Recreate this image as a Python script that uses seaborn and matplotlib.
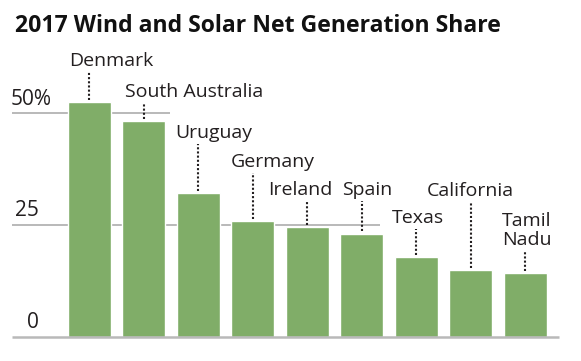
import numpy as np
import pandas as pd
import matplotlib
matplotlib.use('Agg')
import matplotlib.pyplot as plt
import seaborn as sns

# data
places = ['Denmark', 'South Australia', 'Uruguay', 'Germany', 'Ireland',
          'Spain', 'Texas', 'California', 'Tamil\nNadu']
share = [52.5, 48.2, 32.1, 25.8, 24.6, 23.1, 17.9, 15.0, 14.2]
tick_vals = [0, 25, 50]
tick_text = ['0', '25', '50%']

# label layout (offset from bar centre in bar units, baseline in data units)
label_dx = [-0.36, -0.35, -0.42, -0.41, -0.12, -0.36, -0.44, 0.0, 0.03]
label_ha = ['left', 'left', 'left', 'left', 'center', 'left', 'left', 'center', 'center']
label_y = [60.5, 53.6, 44.4, 37.9, 31.7, 31.7, 25.4, 31.5, 20.5]

sns.set_style('white')
plt.rcParams['font.family'] = ['Open Sans', 'DejaVu Sans']

bar_green = '#80ad68'
grid_grey = '#b9b9b9'
ink = '#231f20'

df = pd.DataFrame({'place': places, 'share': share})

fig = plt.figure(figsize=(5.81, 3.61), dpi=100)
ax = fig.add_axes([0, 0, 1, 1])

sns.barplot(data=df, x='place', y='share', color=bar_green, saturation=1,
            width=0.79, ax=ax, zorder=3)

# pixel mapping: bar 0 centre at x=89 px, pitch 54.5 px; 0 at y=337 px, 4.48 px per unit
ax.set_xlim(-89.2 / 54.5, (581 - 89.2) / 54.5)
ax.set_ylim((337 - 361) / 4.48, 337 / 4.48)
ax.set_axis_off()

# partial gridlines and baseline
ax.hlines(50, -1.42, 1.48, color=grid_grey, lw=1.4, zorder=1)
ax.hlines(25, -1.42, 5.34, color=grid_grey, lw=1.4, zorder=1)
ax.hlines(0, -1.42, 8.62, color=grid_grey, lw=1.8, zorder=4)

# y tick labels
for v, t in zip(tick_vals, tick_text):
    if t.endswith('%'):
        ax.text(-1.45, v + 1.8, t, ha='left', va='baseline', fontsize=15, color=ink)
    else:
        ax.text(-0.93, v + 2.0, t, ha='right', va='baseline', fontsize=15, color=ink)

# labels with dotted leaders
for i, (p, v) in enumerate(zip(places, share)):
    ax.text(i + label_dx[i], label_y[i], p, ha=label_ha[i], va='baseline',
            fontsize=14, color=ink, linespacing=1.05)
    ax.vlines(i, v + 0.45, label_y[i] - 1.35, color=ink, lw=1.5,
              linestyles=(0, (1, 1)), zorder=5)

fig.text(15 / 581, 1 - 32.5 / 361, '2017 Wind and Solar Net Generation Share',
         fontsize=16.6, fontweight='bold', color='#111111', va='baseline', ha='left')

fig.savefig('out.png', dpi=100)
